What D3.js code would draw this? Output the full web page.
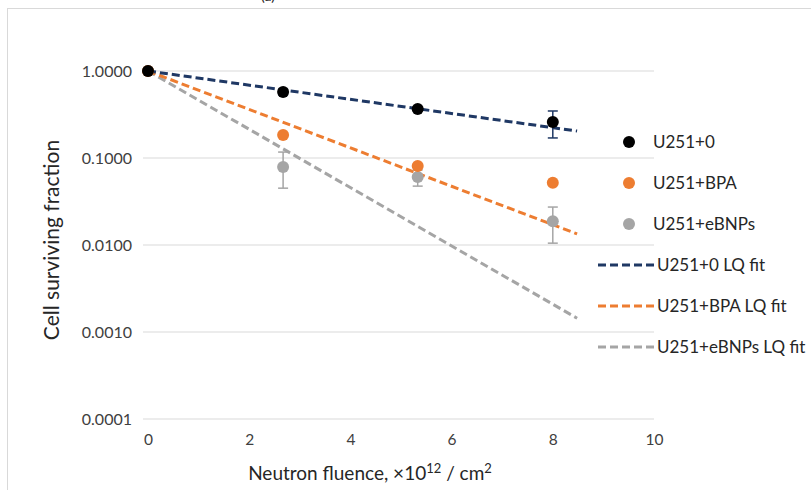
<!DOCTYPE html>
<html><head><meta charset="utf-8">
<script src="https://cdn.jsdelivr.net/npm/d3@7"></script>
<style>body{margin:0;background:#fff}svg{display:block}text{font-family:Lato,"Noto Sans",sans-serif}</style>
</head><body><svg id="c" width="811" height="490"></svg>
<script>
const fluence = [0, 2.67, 5.33, 8.0];
const u0 = [1.0, 0.574, 0.366, 0.26];
const u0Lo = [1.0, 0.53, 0.35, 0.17];
const u0Hi = [1.0, 0.62, 0.38, 0.347];
const bpa = [1.0, 0.184, 0.081, 0.052];
const ebnp = [1.0, 0.079, 0.0606, 0.0188];
const ebnpLo = [1.0, 0.045, 0.0475, 0.0105];
const ebnpHi = [1.0, 0.117, 0.073, 0.0273];
const fitX = [0, 8.48];
const fitU0 = [1.0, 0.204];
const fitBPA = [1.0, 0.0134];
const fitEBNP = [1.0, 0.00144];
const xTicks = [0, 2, 4, 6, 8, 10];
const yTicks = [1, 0.1, 0.01, 0.001, 0.0001];
const legendLabels = ["U251+0", "U251+BPA", "U251+eBNPs", "U251+0 LQ fit", "U251+BPA LQ fit", "U251+eBNPs LQ fit"];

const svg = d3.select("#c");
const x = d3.scaleLinear().domain([0, 10]).range([148, 654]);
const y = d3.scaleLog().domain([0.0001, 1]).range([419, 71]);
const C = {navy: "#1f3864", black: "#000000", orange: "#ed7d31", gray: "#a5a5a5"};

// frame
svg.append("rect").attr("x", 7.5).attr("y", 8.5).attr("width", 820).attr("height", 500)
  .attr("fill", "none").attr("stroke", "#d9d9d9");
// title (cut by the top edge in the reference)
svg.append("text").attr("x", 268).attr("y", 1).attr("text-anchor", "middle")
  .attr("font-size", 14).attr("fill", "#262626").text("(a)");

// grid
svg.append("g").selectAll("line").data(yTicks).join("line")
  .attr("x1", 143).attr("x2", 654).attr("y1", d => y(d)).attr("y2", d => y(d))
  .attr("stroke", "#d9d9d9").attr("stroke-width", 1);

// y axis
const ya = svg.append("g").attr("transform", "translate(132,0)")
  .call(d3.axisLeft(y).tickValues(yTicks).tickFormat(d3.format(".4f")).tickSize(0).tickPadding(0));
ya.select(".domain").remove();
ya.selectAll("text").attr("font-size", 16).attr("fill", "#404040").attr("font-family", "Lato");

// x axis
const xa = svg.append("g").attr("transform", "translate(0,434)")
  .call(d3.axisBottom(x).tickValues(xTicks).tickFormat(d3.format("d")).tickSize(0).tickPadding(0));
xa.select(".domain").remove();
xa.selectAll("text").attr("font-size", 15.5).attr("fill", "#404040").attr("font-family", "Lato");

// axis titles
const xt = svg.append("text").attr("x", 370).attr("y", 480).attr("text-anchor", "middle")
  .attr("font-size", 19).attr("fill", "#262626");
xt.append("tspan").text("Neutron fluence, ×10");
xt.append("tspan").attr("dy", -7).attr("font-size", 13).text("12");
xt.append("tspan").attr("dy", 7).text(" / cm");
xt.append("tspan").attr("dy", -7).attr("font-size", 13).text("2");
svg.append("text").attr("transform", "translate(59,240) rotate(-90)").attr("text-anchor", "middle")
  .attr("font-size", 21).attr("fill", "#262626").text("Cell surviving fraction");

// fit lines
const line = d3.line().x(d => x(d[0])).y(d => y(d[1]));
[[fitEBNP, C.gray], [fitBPA, C.orange], [fitU0, C.navy]].forEach(([vals, col]) => {
  svg.append("path").datum(fitX.map((v, i) => [v, vals[i]])).attr("d", line)
    .attr("fill", "none").attr("stroke", col).attr("stroke-width", 3).attr("stroke-dasharray", "8,4");
});

// error bars
function errBars(lo, hi, col) {
  const g = svg.append("g").attr("stroke", col).attr("stroke-width", 1.5);
  fluence.forEach((f, i) => {
    if (i === 0) return;
    g.append("line").attr("x1", x(f)).attr("x2", x(f)).attr("y1", y(lo[i])).attr("y2", y(hi[i]));
    [lo[i], hi[i]].forEach(v => g.append("line").attr("x1", x(f) - 5).attr("x2", x(f) + 5).attr("y1", y(v)).attr("y2", y(v)));
  });
}
// points
function points(vals, col) {
  svg.append("g").selectAll("circle").data(fluence.map((f, i) => [f, vals[i]])).join("circle")
    .attr("cx", d => x(d[0])).attr("cy", d => y(d[1])).attr("r", 6).attr("fill", col);
}
errBars(ebnpLo, ebnpHi, C.gray);
points(ebnp, C.gray);
points(bpa, C.orange);
errBars(u0Lo, u0Hi, C.navy);
points(u0, C.black);

// legend
const lg = svg.append("g");
const lgCols = [C.black, C.orange, C.gray, C.navy, C.orange, C.gray];
legendLabels.forEach((lab, i) => {
  const yy = 142 + i * 41;
  if (i < 3) {
    lg.append("circle").attr("cx", 629).attr("cy", yy).attr("r", 6).attr("fill", lgCols[i]);
    lg.append("text").attr("x", 653).attr("y", yy + 6).attr("font-size", 17).attr("fill", "#262626").text(lab);
  } else {
    lg.append("line").attr("x1", 598).attr("x2", 654).attr("y1", yy).attr("y2", yy)
      .attr("stroke", lgCols[i]).attr("stroke-width", 3).attr("stroke-dasharray", "8,4");
    lg.append("text").attr("x", 657).attr("y", yy + 6).attr("font-size", 17).attr("fill", "#262626").text(lab);
  }
});
</script></body></html>
